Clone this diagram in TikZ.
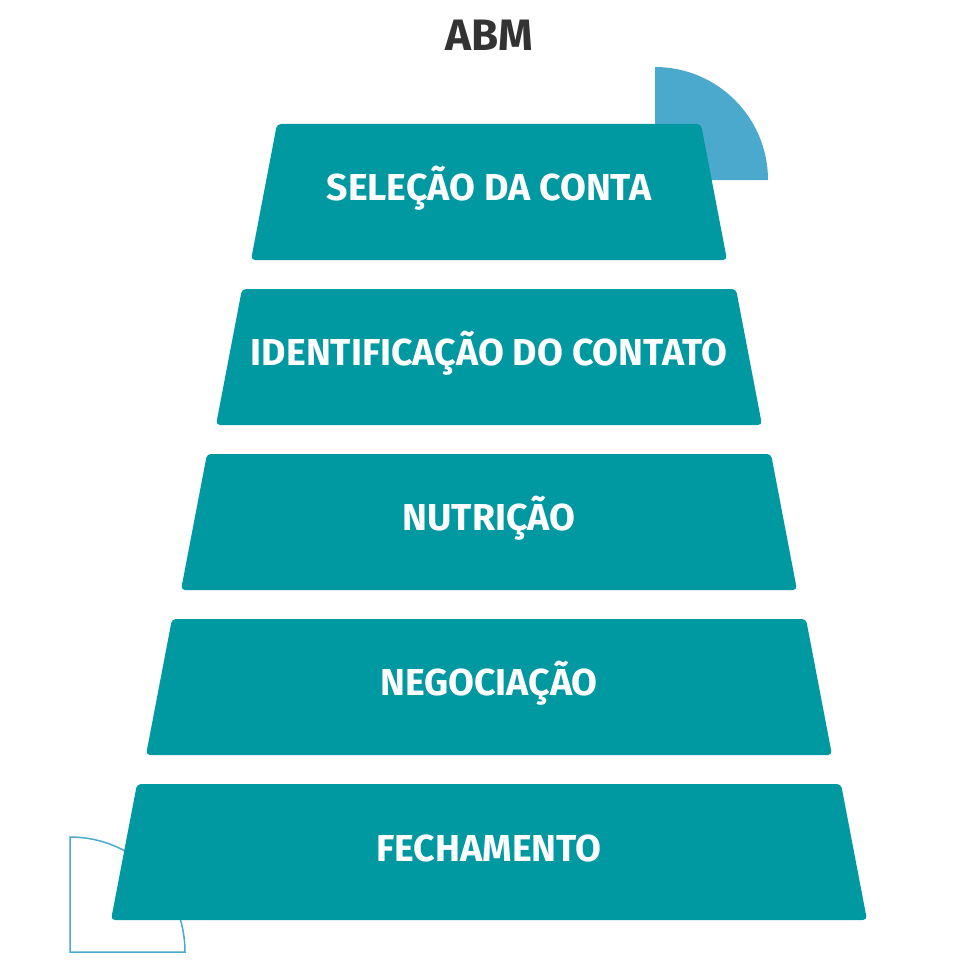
\documentclass[tikz,border=0pt]{standalone}
\usepackage{fontspec}
\setmainfont{Fira Sans}
\begin{document}
\begin{tikzpicture}[x=1pt,y=-1pt,
  stepbox/.style={fill=teal0, rounded corners=4pt},
  lbl/.style={text=white, font=\bfseries\fontsize{37.5}{37.5}\selectfont},
]
\definecolor{teal0}{HTML}{0098A1}
\definecolor{lblue}{HTML}{4BA9CE}
\useasboundingbox (0,0) rectangle (979,979);
\fill[lblue] (655,180) -- (655,67) arc[start angle=-90,end angle=0,radius=113] -- cycle;
\draw[lblue,line width=1.5pt] (70,952) -- (70,837) arc[start angle=-90,end angle=0,radius=115] -- cycle;
\node (title) at (489,35) {\bfseries\fontsize{44}{44}\selectfont\color[HTML]{333333}ABM};
\foreach \i/\t/\tl/\tr/\bl/\br/\txt in {
 1/124/277/701/251/727/SELEÇÃO DA CONTA,
 2/289/242/736/216/762/IDENTIFICAÇÃO DO CONTATO,
 3/454/207/771/181/797/NUTRIÇÃO,
 4/619/172/806/146/832/NEGOCIAÇÃO,
 5/784/137/841/111/867/FECHAMENTO}{
  \pgfmathsetmacro\b{\t+136}
  \fill[stepbox] (\tl,\t) -- (\tr,\t) -- (\br,\b) -- (\bl,\b) -- cycle;
  \node[lbl] (s\i) at (489,\t+64) {\txt};
}
\end{tikzpicture}
\end{document}
